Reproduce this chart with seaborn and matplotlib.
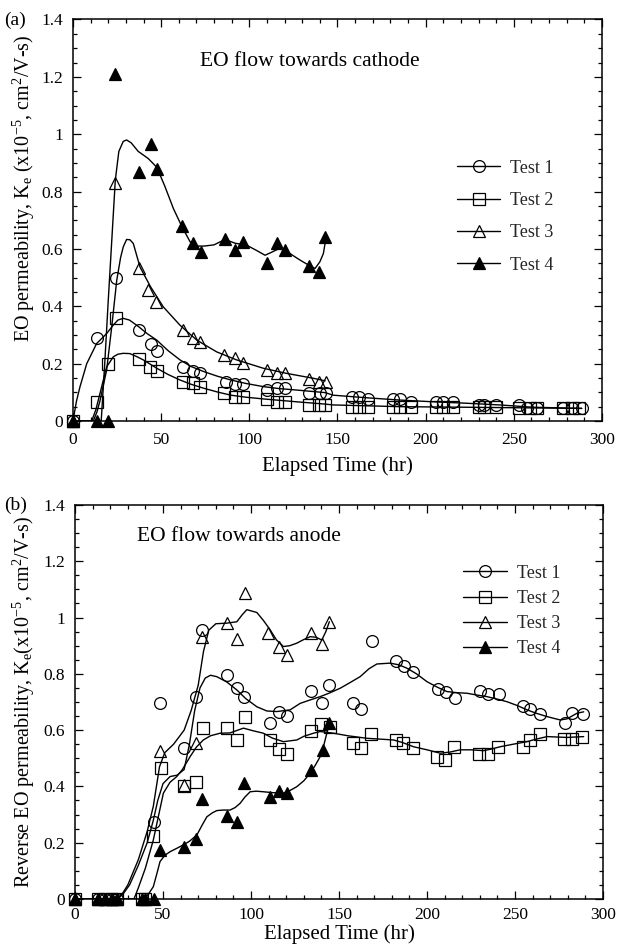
import numpy as np
import pandas as pd
import matplotlib
matplotlib.use("Agg")
import matplotlib.pyplot as plt
import seaborn as sns
from matplotlib.lines import Line2D
from matplotlib.ticker import MultipleLocator, FuncFormatter

sns.set_theme(style="ticks")
plt.rcParams['font.family'] = ['Liberation Serif', 'DejaVu Serif']
plt.rcParams['mathtext.fontset'] = 'custom'
plt.rcParams['mathtext.rm'] = 'Liberation Serif'
plt.rcParams['mathtext.it'] = 'Liberation Serif:italic'

# ---------------- (a) EO flow towards cathode: measured points ----------------
a_t1_x = [0, 13.4, 24.2, 37.6, 44, 47.5, 62.2, 68.3, 72, 86.8, 91.9, 96.2, 109.9, 115.5, 120.3,
          134, 140, 143.5, 158, 162, 167.5, 181.7, 185.5, 191.7, 206, 210, 215.7, 230, 233.3, 240,
          253, 257.3, 263, 278, 283, 288.5]
a_t1_y = [0, 0.29, 0.50, 0.317, 0.268, 0.245, 0.19, 0.175, 0.166, 0.137, 0.129, 0.129, 0.108, 0.116, 0.116,
          0.099, 0.099, 0.099, 0.085, 0.085, 0.077, 0.077, 0.075, 0.067, 0.065, 0.065, 0.066, 0.056, 0.056, 0.057,
          0.056, 0.044, 0.044, 0.044, 0.044, 0.044]
a_t2_x = [0, 13.4, 19.7, 24.2, 37.6, 43.7, 47.5, 62.2, 68.3, 72, 85.8, 91.9, 96.2, 109.9, 115.5, 120.3,
          134, 139.5, 143, 158, 162, 167.5, 181.7, 185.5, 191.7, 206, 210, 215.7, 230, 233, 240,
          253, 259, 263, 278, 283, 287]
a_t2_y = [0, 0.067, 0.20, 0.36, 0.215, 0.19, 0.175, 0.137, 0.131, 0.117, 0.099, 0.083, 0.083, 0.076, 0.067, 0.067,
          0.056, 0.056, 0.056, 0.048, 0.048, 0.048, 0.048, 0.048, 0.048, 0.048, 0.048, 0.048, 0.048, 0.048, 0.048,
          0.044, 0.044, 0.044, 0.044, 0.044, 0.044]
a_t3_x = [0, 24, 37.6, 42.7, 47.1, 62.2, 67.9, 72, 85.8, 91.9, 96.2, 109.9, 115.5, 120.3, 134, 139.5, 143.5]
a_t3_y = [0, 0.83, 0.532, 0.456, 0.416, 0.317, 0.288, 0.276, 0.23, 0.218, 0.203, 0.178, 0.168, 0.168, 0.146, 0.137, 0.137]
a_t4_x = [0, 13.4, 19.7, 23.8, 37.6, 44, 47.5, 61.6, 67.9, 72.4, 86.2, 91.9, 96.2, 110.2, 115.5, 120.3, 134, 139.7, 143]
a_t4_y = [0, 0, 0, 1.21, 0.869, 0.965, 0.88, 0.68, 0.619, 0.59, 0.636, 0.598, 0.625, 0.55, 0.619, 0.598, 0.54, 0.52, 0.64]

# (a) fitted curves
a_c1_x = [0, 2, 4, 7.8, 13.4, 19.1, 22.9, 25.5, 28.5, 32, 37, 42, 47.5, 54, 60.7, 67, 74.3, 82, 89.6, 98, 107.9,
          117, 126.8, 143, 147.6, 166.5, 185.5, 204.2, 223.1, 242, 260.9, 288.5]
a_c1_y = [0, 0.07, 0.12, 0.2, 0.27, 0.305, 0.335, 0.352, 0.358, 0.352, 0.33, 0.305, 0.282, 0.245, 0.213, 0.19, 0.172,
          0.156, 0.143, 0.131, 0.12, 0.113, 0.108, 0.099, 0.09, 0.081, 0.073, 0.067, 0.062, 0.056, 0.048, 0.044]
a_c2_x = [0, 10.6, 13, 15.3, 19.1, 22.9, 25.5, 28.5, 32.3, 36, 39.9, 47.5, 54, 60.7, 67, 74.3, 82, 89.6, 98, 107.9,
          126.8, 143, 147.6, 185.5, 223, 288.5]
a_c2_y = [0, 0, 0.04, 0.096, 0.189, 0.224, 0.233, 0.236, 0.235, 0.225, 0.213, 0.184, 0.162, 0.143, 0.128, 0.114,
          0.101, 0.09, 0.083, 0.077, 0.067, 0.059, 0.056, 0.05, 0.048, 0.044]
a_c3_x = [0, 11.5, 13.5, 15.3, 19.1, 22, 24.8, 27, 28.5, 30.4, 32.3, 34.2, 38, 44, 51.2, 60.7, 70.2, 81.5, 92.8,
          107.9, 121.2, 136.3, 143]
a_c3_y = [0, 0, 0.03, 0.07, 0.178, 0.33, 0.49, 0.57, 0.607, 0.633, 0.632, 0.619, 0.537, 0.468, 0.398, 0.334, 0.282,
          0.241, 0.213, 0.184, 0.166, 0.149, 0.14]
a_c4_x = [0, 16, 18, 20, 22, 24, 26, 28.5, 30.4, 33, 37, 40, 42.7, 47.5, 52, 57, 61.6, 66.4, 70, 74.3, 79.9, 86.2,
          91.9, 98.5, 104, 108.9, 112.5, 116.5, 120.3, 124.5, 128.8, 133.5, 137.3, 140, 142, 143.5]
a_c4_y = [0, 0, 0.2, 0.42, 0.63, 0.84, 0.94, 0.975, 0.98, 0.97, 0.94, 0.927, 0.915, 0.885, 0.82, 0.74, 0.68, 0.625,
          0.61, 0.61, 0.614, 0.633, 0.62, 0.613, 0.595, 0.578, 0.588, 0.60, 0.596, 0.578, 0.561, 0.544, 0.532, 0.555,
          0.584, 0.64]

# ---------------- (b) EO flow towards anode: measured points ----------------
b_t1_x = [0, 13.2, 17.1, 20.9, 24.1, 44.9, 48.3, 62.1, 68.6, 72.4, 86.2, 91.9, 96.2, 110.5, 116.1, 120.3,
          134.2, 140.4, 144.3, 158.2, 162.6, 168.7, 182.5, 187, 192, 206, 210.8, 216.1, 230.3, 234.7, 240.7,
          254.3, 258.7, 264.4, 278.2, 282.4, 288.6]
b_t1_y = [0, 0, 0, 0, 0, 0.275, 0.698, 0.535, 0.717, 0.956, 0.796, 0.749, 0.717, 0.627, 0.666, 0.65,
          0.738, 0.697, 0.76, 0.698, 0.675, 0.917, 0.846, 0.828, 0.808, 0.746, 0.737, 0.715, 0.739, 0.727, 0.727,
          0.686, 0.674, 0.656, 0.627, 0.66, 0.657]
b_t2_x = [0, 13.2, 17.1, 20.9, 24.1, 38, 40, 44.5, 48.9, 62.1, 68.6, 72.6, 86.2, 92.3, 96.6, 110.5, 116.1, 120.3,
          134.2, 139.7, 145, 158.2, 162.6, 168.3, 182.3, 186.6, 192.3, 205.6, 210, 215.6, 229.7, 234.6, 240.3,
          254.5, 258.7, 264.4, 277.6, 282.4, 288.1]
b_t2_y = [0, 0, 0, 0, 0, 0, 0, 0.225, 0.467, 0.402, 0.415, 0.607, 0.607, 0.565, 0.646, 0.565, 0.532, 0.515,
          0.597, 0.622, 0.612, 0.555, 0.535, 0.586, 0.565, 0.555, 0.535, 0.506, 0.494, 0.541, 0.515, 0.515, 0.541,
          0.541, 0.565, 0.586, 0.568, 0.568, 0.577]
b_t3_x = [0, 13.2, 17.1, 20.9, 24.1, 48.3, 62.1, 68.6, 72.4, 86.2, 91.9, 96.6, 109.9, 116.1, 120.3, 134.2, 140.4, 144.5]
b_t3_y = [0, 0, 0, 0, 0, 0.526, 0.405, 0.555, 0.93, 0.982, 0.924, 1.086, 0.944, 0.897, 0.867, 0.944, 0.905, 0.985]
b_t4_x = [0, 13.2, 17.1, 20.9, 24.1, 38, 40, 44.7, 48.3, 62.1, 68.6, 72.4, 86.2, 92.3, 96.2, 110.5, 116.1, 120.3,
          134.2, 140.7, 144.4]
b_t4_y = [0, 0, 0, 0, 0, 0, 0, 0, 0.174, 0.186, 0.212, 0.354, 0.295, 0.275, 0.413, 0.361, 0.385, 0.376,
          0.457, 0.531, 0.625]

# (b) fitted curves
b_c1_x = [0, 23.7, 27, 31, 36, 41, 44.5, 47, 50, 54, 58, 62, 65, 68, 71, 74, 77, 80.5, 86, 91.9, 97, 103.3,
          109, 114.7, 122.2, 127.9, 133, 139.3, 145, 150.7, 156, 162, 167, 171.5, 179, 184, 188.6, 194, 200,
          206, 211.3, 217, 222.7, 228, 234, 240, 245.4, 251, 256.8, 262, 268.2, 275.7, 279.5, 285.2, 289]
b_c1_y = [0, 0, 0.015, 0.05, 0.12, 0.2, 0.28, 0.35, 0.41, 0.435, 0.44, 0.46, 0.55, 0.67, 0.75, 0.785, 0.795,
          0.79, 0.772, 0.743, 0.712, 0.683, 0.668, 0.666, 0.672, 0.695, 0.706, 0.719, 0.733, 0.749, 0.768, 0.79,
          0.818, 0.835, 0.838, 0.832, 0.82, 0.8, 0.772, 0.752, 0.737, 0.733, 0.731, 0.725, 0.719, 0.71, 0.701,
          0.688, 0.672, 0.66, 0.648, 0.636, 0.64, 0.66, 0.665]
b_c2_x = [0, 33.5, 36, 40, 44.5, 50.2, 54, 57.8, 61, 65.4, 69, 72.9, 77, 82.4, 88, 95.7, 101, 107, 112, 118.4,
          126, 130, 135.5, 139.3, 146.9, 155, 165.8, 181, 186, 192.3, 200, 207.5, 213, 218.8, 225, 232.1, 236,
          241.6, 249, 256.8, 262, 268.2, 279.5, 289]
b_c2_y = [0, 0, 0.04, 0.11, 0.21, 0.376, 0.415, 0.435, 0.46, 0.506, 0.54, 0.565, 0.58, 0.589, 0.59, 0.607,
          0.598, 0.589, 0.572, 0.559, 0.565, 0.578, 0.589, 0.595, 0.589, 0.58, 0.571, 0.565, 0.556, 0.541, 0.53,
          0.518, 0.522, 0.53, 0.53, 0.527, 0.532, 0.541, 0.55, 0.559, 0.568, 0.577, 0.574, 0.577]
b_c3_x = [0, 23.7, 27, 30, 36, 41, 44.5, 48, 51, 56, 62, 66, 70, 73, 76, 80, 86, 91.9, 95, 97.6, 103.3, 107,
          110.9, 114.5, 118.4, 122, 126, 130, 133.6, 137, 140.2, 142.5, 144.5]
b_c3_y = [0, 0, 0.02, 0.05, 0.14, 0.24, 0.33, 0.47, 0.52, 0.55, 0.6, 0.67, 0.76, 0.88, 0.955, 0.978, 0.98,
          0.985, 1.01, 1.028, 1.018, 0.99, 0.956, 0.92, 0.897, 0.9, 0.909, 0.922, 0.932, 0.93, 0.92, 0.95, 0.985]
b_c4_x = [0, 39.5, 42, 44.5, 46.5, 48.3, 51, 54, 57.8, 61.5, 65, 69.2, 72, 74.9, 78, 80.5, 84, 88.1, 91, 93.8,
          96.5, 99.5, 103, 107, 112, 118.4, 122, 126, 130, 133.6, 136.5, 139.3, 141.5, 144]
b_c4_y = [0, 0, 0.02, 0.044, 0.09, 0.133, 0.155, 0.168, 0.18, 0.192, 0.205, 0.227, 0.26, 0.292, 0.306, 0.314,
          0.316, 0.316, 0.325, 0.34, 0.362, 0.381, 0.383, 0.381, 0.378, 0.376, 0.385, 0.399, 0.42, 0.447, 0.475,
          0.506, 0.55, 0.612]

legend_labels = ["Test 1", "Test 2", "Test 3", "Test 4"]
x_ticks = [0, 50, 100, 150, 200, 250, 300]

# ---------------- drawing ----------------
fig = plt.figure(figsize=(6.18, 9.51), dpi=100)
ax_a = fig.add_axes([0.1181, 0.5573, 0.8560, 0.4222])
ax_b = fig.add_axes([0.1214, 0.0547, 0.8544, 0.4143])

styles = [dict(marker='o', mfc='none', ms=8.5),
          dict(marker='s', mfc='none', ms=8.5),
          dict(marker='^', mfc='none', ms=8.5),
          dict(marker='^', mfc='black', ms=8.5)]


def draw(ax, pts, curves):
    for (cx, cy) in curves:
        sns.lineplot(x=cx, y=cy, ax=ax, color='black', lw=1.0, sort=False, estimator=None)
    for (px, py), st in zip(pts, styles):
        sns.lineplot(x=px, y=py, ax=ax, color='black', lw=0, linestyle='', sort=False,
                     estimator=None, mec='black', mew=0.9, clip_on=False, **st)


draw(ax_a,
     [(a_t1_x, a_t1_y), (a_t2_x, a_t2_y), (a_t3_x, a_t3_y), (a_t4_x, a_t4_y)],
     [(a_c1_x, a_c1_y), (a_c2_x, a_c2_y), (a_c3_x, a_c3_y), (a_c4_x, a_c4_y)])
draw(ax_b,
     [(b_t1_x, b_t1_y), (b_t2_x, b_t2_y), (b_t3_x, b_t3_y), (b_t4_x, b_t4_y)],
     [(b_c1_x, b_c1_y), (b_c2_x, b_c2_y), (b_c3_x, b_c3_y), (b_c4_x, b_c4_y)])

fmt = FuncFormatter(lambda v, p: ('%g' % round(v, 2)))
for ax, xpad, lpad in ((ax_a, 8, 6), (ax_b, 6, 1)):
    ax.set_xlim(0, 300)
    ax.set_ylim(0, 1.4)
    ax.set_xticks(x_ticks)
    ax.xaxis.set_minor_locator(MultipleLocator(10))
    ax.yaxis.set_major_locator(MultipleLocator(0.2))
    ax.yaxis.set_minor_locator(MultipleLocator(0.05))
    ax.yaxis.set_major_formatter(fmt)
    ax.tick_params(which='both', direction='in', top=True, right=True, labelsize=12.5,
                   color='black', labelcolor='black', width=0.9)
    ax.tick_params(which='major', length=6)
    ax.tick_params(which='minor', length=3)
    ax.tick_params(axis='x', which='major', pad=xpad)
    ax.tick_params(axis='y', which='major', pad=7)
    for s in ax.spines.values():
        s.set_linewidth(1.1)
        s.set_color('black')
    ax.set_xlabel("Elapsed Time (hr)", fontsize=15, labelpad=lpad, color='black')

handles = [Line2D([], [], color='black', lw=1.0, mec='black', mew=0.9, **st) for st in styles]
ax_a.legend(handles, legend_labels, frameon=False, fontsize=13, handlelength=2.4,
            handletextpad=0.55, labelspacing=0.85, borderaxespad=0.0,
            loc='center left', bbox_to_anchor=(0.712, 0.509))
ax_b.legend(handles, legend_labels, frameon=False, fontsize=13, handlelength=2.4,
            handletextpad=0.55, labelspacing=0.45, borderaxespad=0.0,
            loc='center left', bbox_to_anchor=(0.722, 0.731))

ax_a.set_ylabel(r"EO permeability, K$_\mathrm{e}$ (x10$^{\mathrm{-5}}$, cm$^\mathrm{2}$/V-s)",
                fontsize=14.5, labelpad=5, color='black')
ax_a.yaxis.set_label_coords(-0.068, 0.58)
ax_b.set_ylabel(r"Reverse EO permeability, K$_\mathrm{e}$(x10$^{\mathrm{-5}}$, cm$^\mathrm{2}$/V-s)",
                fontsize=14.5, labelpad=5, color='black')

ax_a.text(0.24, 0.895, "EO flow towards cathode", transform=ax_a.transAxes, fontsize=15.5,
          va='center', ha='left', color='black')
ax_b.text(0.117, 0.92, "EO flow towards anode", transform=ax_b.transAxes, fontsize=15.5,
          va='center', ha='left', color='black')

fig.text(4 / 618, 1 - 20 / 951, "(a)", fontsize=14, va='center', ha='left', color='black')
fig.text(4 / 618, 1 - 505 / 951, "(b)", fontsize=14, va='center', ha='left', color='black')

fig.savefig("out.png", dpi=100, facecolor='white')
